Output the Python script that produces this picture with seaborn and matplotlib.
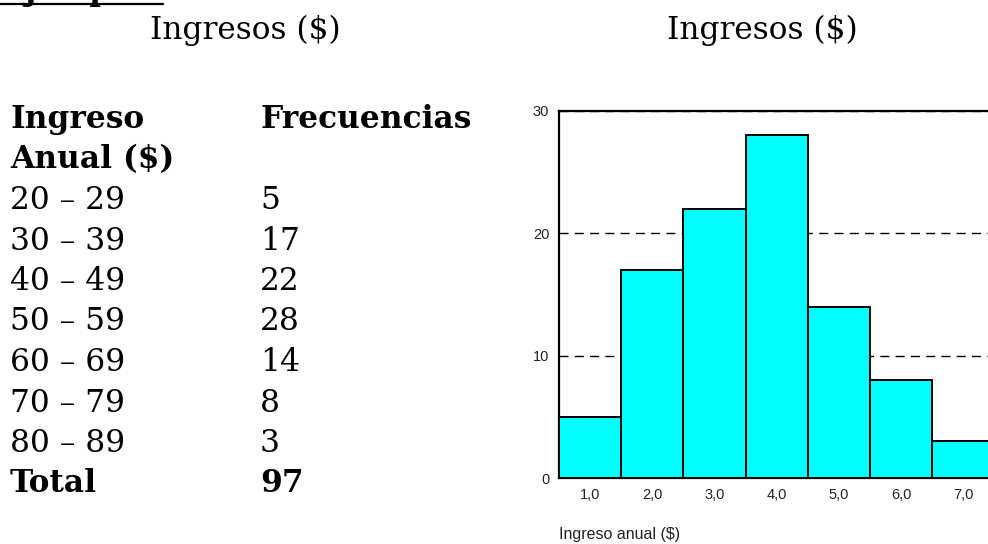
import matplotlib
matplotlib.use("Agg")
import matplotlib.pyplot as plt
import seaborn as sns
import pandas as pd

# Income classes and their frequencies
ranges = ["20 – 29", "30 – 39", "40 – 49", "50 – 59", "60 – 69", "70 – 79", "80 – 89"]
frequencies = [5, 17, 22, 28, 14, 8, 3]
class_labels = ["1,0", "2,0", "3,0", "4,0", "5,0", "6,0", "7,0"]
y_ticks = [0, 10, 20, 30]

sns.set_theme(style="white")
plt.rcParams["font.family"] = ["DejaVu Serif"]

W, H = 988, 544
fig = plt.figure(figsize=(W / 100, H / 100), dpi=100)
fig.patch.set_facecolor("white")


def put(x, y, s, **kw):
    """Place text at pixel coordinates (origin top-left, y = baseline)."""
    kw.setdefault("va", "baseline")
    kw.setdefault("ha", "left")
    kw.setdefault("color", "black")
    return fig.text(x / W, 1 - y / H, s, **kw)


serif = "DejaVu Serif"
size = 22.5

# Heading at the top edge, underlined
put(2, 0, "Ejemplo:", fontsize=size, fontweight="bold", family=serif)
fig.add_artist(plt.Line2D([0, 163 / W], [1 - 3.5 / H, 1 - 3.5 / H],
                          color="black", lw=1.6, transform=fig.transFigure))

# Section titles
put(245, 39, "Ingresos ($)", fontsize=size, family=serif, ha="center")
put(762, 39, "Ingresos ($)", fontsize=size, family=serif, ha="center")

# Frequency table
put(10, 128, "Ingreso", fontsize=size, fontweight="bold", family=serif)
put(10, 168, "Anual ($)", fontsize=size, fontweight="bold", family=serif)
put(260, 128, "Frecuencias", fontsize=size, fontweight="bold", family=serif)
row0, step = 209, 40.5
for i, (r, f) in enumerate(zip(ranges, frequencies)):
    y = row0 + i * step
    put(10, y, r, fontsize=size, family=serif)
    put(260, y, str(f), fontsize=size, family=serif)
y_total = row0 + len(ranges) * step
put(10, y_total, "Total", fontsize=size, fontweight="bold", family=serif)
put(260, y_total, str(sum(frequencies)), fontsize=size, fontweight="bold", family=serif)

# Histogram
left, right = 559, 994.2
top, bottom = 111, 478
ax = fig.add_axes([left / W, 1 - bottom / H, (right - left) / W, (bottom - top) / H])
df = pd.DataFrame({"clase": class_labels, "frecuencia": frequencies})
sns.barplot(data=df, x="clase", y="frecuencia", color="#00FFFF", saturation=1,
            edgecolor="black", linewidth=1.4, width=1.0, ax=ax, zorder=3)

ax.set_xlim(-0.5, len(class_labels) - 0.5)
ax.set_ylim(0, 30)
ax.set_yticks(y_ticks)
ax.set_yticklabels([str(t) for t in y_ticks])
ax.set_ylabel("")
ax.set_axisbelow(True)
ax.yaxis.grid(True, color="black", lw=1.0, linestyle=(0, (6.5, 4.5)))
ax.xaxis.grid(False)

sans = "Liberation Sans"
ax.tick_params(axis="both", length=0, labelsize=10.5, colors="#222222")
ax.tick_params(axis="x", pad=7)
ax.tick_params(axis="y", pad=7)
for lab in ax.get_xticklabels() + ax.get_yticklabels():
    lab.set_family(sans)

ax.set_xlabel("Ingreso anual ($)", loc="left", fontsize=11.5, family=sans,
              color="#222222", labelpad=18)

for side in ["left", "bottom", "top"]:
    ax.spines[side].set_visible(True)
    ax.spines[side].set_color("black")
    ax.spines[side].set_linewidth(1.6)
ax.spines["right"].set_visible(False)

fig.savefig("out.png", dpi=100, facecolor="white")
